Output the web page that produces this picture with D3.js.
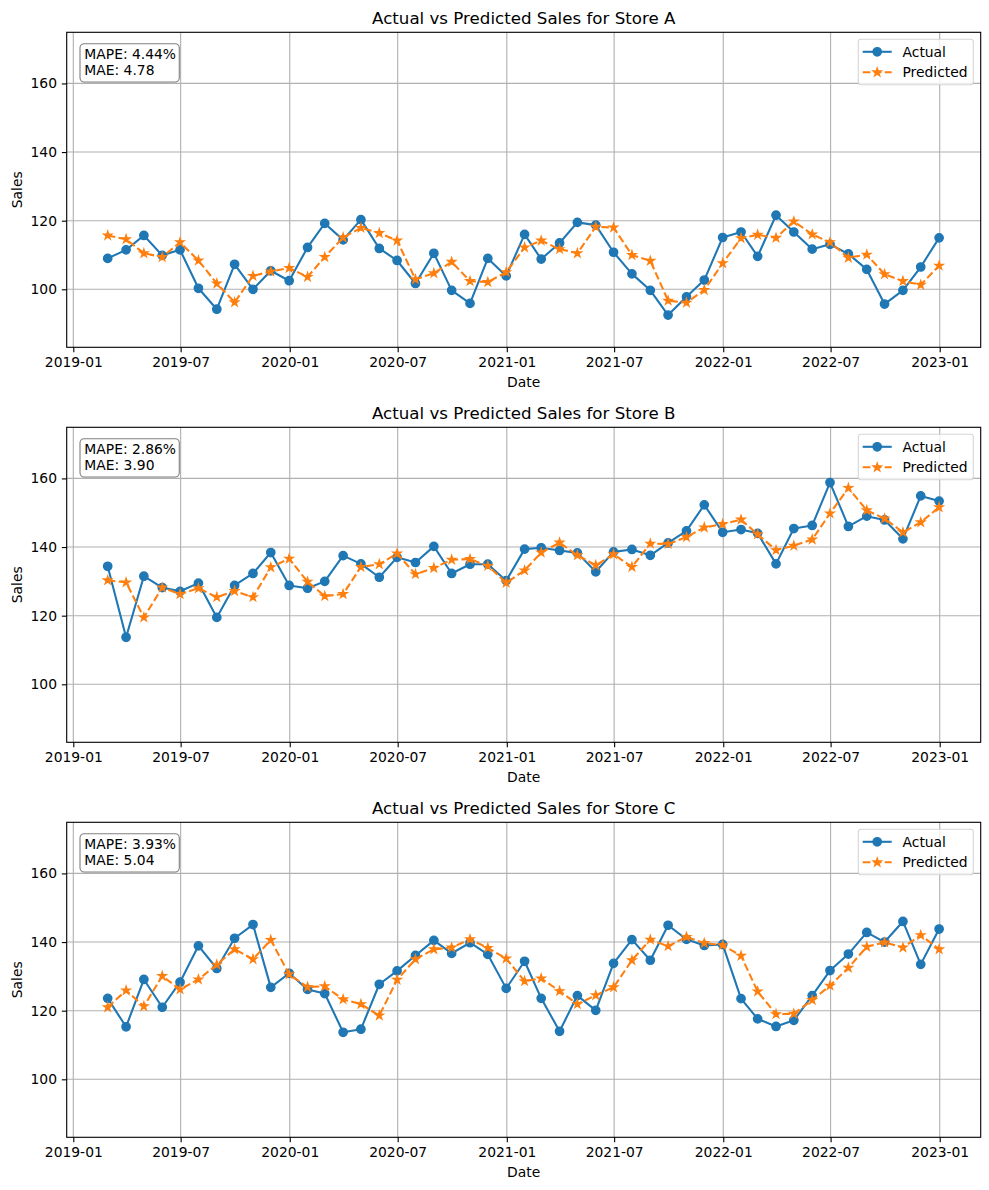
<!DOCTYPE html>
<html><head><meta charset="utf-8">
<script src="https://cdn.jsdelivr.net/npm/d3@7"></script>
<style>
body{margin:0;background:#fff}
svg{display:block}
text{font-family:"DejaVu Sans",sans-serif;fill:#000}
</style>
</head><body>
<svg id="chart" width="989" height="1190"></svg>
<script>
// ---------- data ----------
const dates = [
 "2019-02-28","2019-03-31","2019-04-30","2019-05-31","2019-06-30","2019-07-31","2019-08-31","2019-09-30","2019-10-31","2019-11-30","2019-12-31",
 "2020-01-31","2020-02-29","2020-03-31","2020-04-30","2020-05-31","2020-06-30","2020-07-31","2020-08-31","2020-09-30","2020-10-31","2020-11-30","2020-12-31",
 "2021-01-31","2021-02-28","2021-03-31","2021-04-30","2021-05-31","2021-06-30","2021-07-31","2021-08-31","2021-09-30","2021-10-31","2021-11-30","2021-12-31",
 "2022-01-31","2022-02-28","2022-03-31","2022-04-30","2022-05-31","2022-06-30","2022-07-31","2022-08-31","2022-09-30","2022-10-31","2022-11-30","2022-12-31"
];
const stores = ["A","B","C"];

const actualA = [109.0,111.5,115.7,109.9,111.5,100.3,94.2,107.3,100.0,105.4,102.5,112.2,119.2,114.4,120.3,111.9,108.4,101.7,110.5,99.7,95.9,109.0,103.9,
 116.0,108.8,113.5,119.5,118.7,110.8,104.5,99.7,92.5,97.8,102.7,115.1,116.7,109.6,121.6,116.7,111.7,113.1,110.3,105.8,95.7,99.7,106.5,115.0];
const predictedA = [115.7,114.6,110.5,109.4,113.7,108.4,101.7,96.2,103.9,105.2,106.2,103.6,109.4,115.1,117.9,116.4,114.2,102.9,104.7,108.0,102.4,102.1,105.0,
 112.2,114.2,111.7,110.5,118.2,118.0,110.0,108.3,96.7,96.1,99.8,107.6,114.9,115.9,115.0,119.8,116.0,113.7,109.2,110.1,104.4,102.4,101.3,106.9];

const actualB = [134.4,113.7,131.5,128.2,127.1,129.5,119.5,128.8,132.3,138.4,128.8,128.0,130.0,137.5,135.1,131.2,137.0,135.5,140.2,132.3,135.0,135.0,130.2,
 139.4,139.8,139.0,138.3,132.8,138.6,139.3,137.6,141.2,144.7,152.3,144.3,145.1,144.0,135.1,145.4,146.3,158.8,146.0,149.0,147.9,142.4,154.9,153.4];
const predictedB = [130.3,129.7,119.5,128.2,126.3,128.0,125.4,127.2,125.4,134.1,136.6,129.9,125.7,126.3,134.2,135.0,138.1,132.1,133.9,136.3,136.5,134.5,129.6,
 133.2,138.4,141.3,137.6,134.7,137.9,134.2,141.0,140.9,142.9,145.7,146.7,148.0,143.7,139.1,140.4,142.2,149.8,157.2,150.7,148.3,144.3,147.2,151.6];

const actualC = [123.6,115.3,129.1,121.0,128.3,138.9,132.3,141.1,145.1,126.8,130.9,126.2,125.0,113.7,114.6,127.7,131.6,136.1,140.5,136.7,139.8,136.4,126.5,
 134.4,123.6,114.0,124.4,120.1,133.8,140.7,134.7,144.9,140.8,139.0,139.3,123.5,117.6,115.4,117.2,124.4,131.7,136.5,142.8,140.0,146.0,133.5,143.8];
const predictedC = [121.0,125.9,121.3,130.1,126.2,129.1,133.4,137.9,135.0,140.6,130.6,126.9,127.1,123.3,121.9,118.6,129.0,135.0,137.9,138.4,140.8,138.3,135.2,
 128.6,129.4,125.7,121.9,124.5,126.8,134.7,140.7,138.8,141.5,139.7,139.1,136.0,125.6,119.0,119.1,123.1,127.3,132.5,138.6,139.9,138.4,142.0,137.9];

const actualSeries = [actualA, actualB, actualC];
const predictedSeries = [predictedA, predictedB, predictedC];
const mapeLabels = ["4.44%","2.86%","3.93%"];
const maeLabels = ["4.78","3.90","5.04"];
const yTickValues = [100,120,140,160];
const xTickLabels = ["2019-01","2019-07","2020-01","2020-07","2021-01","2021-07","2022-01","2022-07","2023-01"];
const legendLabels = ["Actual","Predicted"];

// ---------- layout ----------
const BLUE = "#1f77b4", ORANGE = "#ff7f0e";
const axL = 66.7, axR = 980.7, axTop0 = 32.3, axH = 315, panelStep = 395;
const FS = 13.89, TITLE_FS = 16.67;
const LW = 2.08, SPINE = 1.11, TICK = 4.86;
const MR = 4.17, MEW = 1.39;

const parse = d3.timeParse("%Y-%m-%d");
const parseTick = d3.timeParse("%Y-%m");
const dateObjs = dates.map(parse);
const tickDates = xTickLabels.map(parseTick);

const svg = d3.select("#chart");

const x = d3.scaleTime()
  .domain([new Date(2018, 11, 20, 21), new Date(2023, 2, 11, 3)])
  .range([axL, axR]);

function starPath(R) {
  const r = R * 0.381966;
  const pts = [];
  for (let k = 0; k < 10; k++) {
    const a = -Math.PI / 2 + k * Math.PI / 5;
    const rr = k % 2 === 0 ? R : r;
    pts.push([rr * Math.cos(a), rr * Math.sin(a)]);
  }
  return "M" + pts.map(p => p[0].toFixed(3) + "," + p[1].toFixed(3)).join("L") + "Z";
}
const STAR = starPath(MR);

stores.forEach((store, i) => {
  const top = axTop0 + i * panelStep;
  const bottom = top + axH;
  const y = d3.scaleLinear().domain([83.1, 174.9]).range([bottom, top]);
  const g = svg.append("g");

  // grid
  const grid = g.append("g");
  grid.selectAll("line.gx").data(tickDates).enter().append("line")
    .attr("x1", d => x(d)).attr("x2", d => x(d))
    .attr("y1", top).attr("y2", bottom)
    .attr("stroke", "#b0b0b0").attr("stroke-width", SPINE);
  grid.selectAll("line.gy").data(yTickValues).enter().append("line")
    .attr("x1", axL).attr("x2", axR)
    .attr("y1", d => y(d)).attr("y2", d => y(d))
    .attr("stroke", "#b0b0b0").attr("stroke-width", SPINE);

  const data = dateObjs.map((d, k) => ({d, a: actualSeries[i][k], p: predictedSeries[i][k]}));

  // actual
  const lineA = d3.line().x(o => x(o.d)).y(o => y(o.a));
  g.append("path").datum(data).attr("d", lineA)
    .attr("fill", "none").attr("stroke", BLUE).attr("stroke-width", LW)
    .attr("stroke-linejoin", "round");
  g.selectAll("circle.a").data(data).enter().append("circle")
    .attr("cx", o => x(o.d)).attr("cy", o => y(o.a)).attr("r", MR)
    .attr("fill", BLUE).attr("stroke", BLUE).attr("stroke-width", MEW);

  // predicted
  const lineP = d3.line().x(o => x(o.d)).y(o => y(o.p));
  g.append("path").datum(data).attr("d", lineP)
    .attr("fill", "none").attr("stroke", ORANGE).attr("stroke-width", LW)
    .attr("stroke-dasharray", "7.7,3.33").attr("stroke-linejoin", "round");
  g.selectAll("path.p").data(data).enter().append("path")
    .attr("d", STAR)
    .attr("transform", o => `translate(${x(o.d)},${y(o.p)})`)
    .attr("fill", ORANGE).attr("stroke", ORANGE).attr("stroke-width", MEW)
    .attr("stroke-linejoin", "miter");

  // axes
  const xAxis = d3.axisBottom(x).tickValues(tickDates).tickFormat(d3.timeFormat("%Y-%m"))
    .tickSize(TICK).tickPadding(4.86);
  const gx = g.append("g").attr("transform", `translate(0,${bottom})`).call(xAxis);
  const yAxis = d3.axisLeft(y).tickValues(yTickValues).tickFormat(d3.format("d"))
    .tickSize(TICK).tickPadding(4.86);
  const gy = g.append("g").attr("transform", `translate(${axL},0)`).call(yAxis);
  [gx, gy].forEach(ax => {
    ax.select(".domain").remove();
    ax.selectAll(".tick line").attr("stroke", "#000").attr("stroke-width", SPINE);
    ax.selectAll(".tick text").attr("font-size", FS).attr("font-family", "DejaVu Sans").attr("fill", "#000");
  });
  gx.selectAll(".tick text").attr("dy", "0.74em");

  // spines
  g.append("rect").attr("x", axL).attr("y", top).attr("width", axR - axL).attr("height", axH)
    .attr("fill", "none").attr("stroke", "#000").attr("stroke-width", SPINE);

  // title & labels
  g.append("text").attr("x", (axL + axR) / 2).attr("y", top - 8.6)
    .attr("text-anchor", "middle").attr("font-size", TITLE_FS)
    .text(`Actual vs Predicted Sales for Store ${store}`);
  g.append("text").attr("x", (axL + axR) / 2).attr("y", bottom + 40)
    .attr("text-anchor", "middle").attr("font-size", FS).text("Date");
  g.append("text").attr("transform", `translate(21.5,${(top + bottom) / 2}) rotate(-90)`)
    .attr("text-anchor", "middle").attr("font-size", FS).text("Sales");

  // metrics box
  g.append("rect").attr("x", 80).attr("y", top + 11.4).attr("width", 99.3).attr("height", 38.3)
    .attr("rx", 4.2).attr("ry", 4.2)
    .attr("fill", "rgba(255,255,255,0.5)").attr("stroke", "rgba(0,0,0,0.5)").attr("stroke-width", 1.11);
  g.append("text").attr("x", 84.3).attr("y", top + 26.7).attr("font-size", FS).text(`MAPE: ${mapeLabels[i]}`);
  g.append("text").attr("x", 84.3).attr("y", top + 43.1).attr("font-size", FS).text(`MAE: ${maeLabels[i]}`);

  // legend
  const lg = g.append("g");
  lg.append("rect").attr("x", 858.3).attr("y", top + 7).attr("width", 115).attr("height", 45.5)
    .attr("rx", 2.8).attr("ry", 2.8)
    .attr("fill", "rgba(255,255,255,0.8)").attr("stroke", "rgba(204,204,204,0.8)").attr("stroke-width", 1.11);
  const rows = [top + 19.5, top + 40];
  // Actual
  lg.append("line").attr("x1", 862.7).attr("x2", 891.7).attr("y1", rows[0]).attr("y2", rows[0])
    .attr("stroke", BLUE).attr("stroke-width", LW);
  lg.append("circle").attr("cx", 877.2).attr("cy", rows[0]).attr("r", MR)
    .attr("fill", BLUE).attr("stroke", BLUE).attr("stroke-width", MEW);
  // Predicted
  lg.append("line").attr("x1", 862.7).attr("x2", 891.7).attr("y1", rows[1]).attr("y2", rows[1])
    .attr("stroke", ORANGE).attr("stroke-width", LW).attr("stroke-dasharray", "7.7,3.33");
  lg.append("path").attr("d", STAR).attr("transform", `translate(877.2,${rows[1]})`)
    .attr("fill", ORANGE).attr("stroke", ORANGE).attr("stroke-width", MEW);
  legendLabels.forEach((lab, k) => {
    lg.append("text").attr("x", 902.5).attr("y", rows[k]).attr("dy", "0.36em")
      .attr("font-size", FS).text(lab);
  });
});
</script>
</body></html>
